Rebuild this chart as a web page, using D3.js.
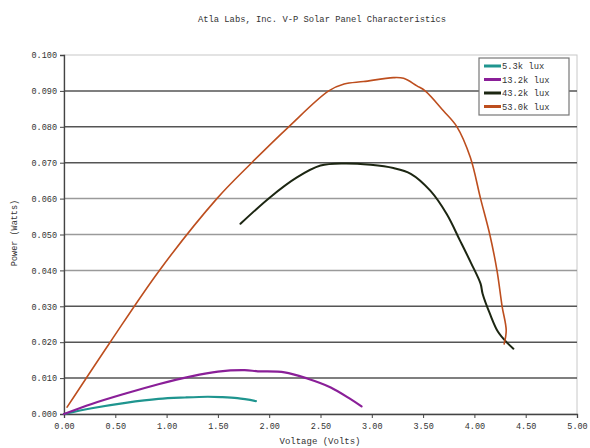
<!DOCTYPE html>
<html>
<head>
<meta charset="utf-8">
<script src="https://cdn.jsdelivr.net/npm/d3@7"></script>
<style>
  html, body { margin: 0; padding: 0; background: #fff; }
  svg { display: block; }
  text { font-family: "Liberation Mono", "DejaVu Sans Mono", monospace; fill: #333; }
</style>
</head>
<body>
<svg id="chart" width="590" height="448"></svg>
<script>
// V-P measurements for each light level (volts, watts)
const seriesNames = ["5.3k lux", "13.2k lux", "43.2k lux", "53.0k lux"];
const seriesColors = ["#1f958f", "#8a1f98", "#1c2612", "#bd4e1e"];
const seriesWidths = [2.2, 2.2, 2, 1.6];

const volts53 = [0.00, 0.27, 0.60, 0.92, 1.18, 1.40, 1.53, 1.69, 1.87];
const watts53 = [0.0000, 0.0016, 0.0031, 0.0042, 0.0046, 0.0048, 0.0047, 0.0044, 0.0036];

const volts132 = [0.00, 0.27, 0.60, 0.92, 1.24, 1.50, 1.76, 1.89, 2.15, 2.37, 2.60, 2.79, 2.90];
const watts132 = [0.0000, 0.0028, 0.0057, 0.0083, 0.0105, 0.0118, 0.0122, 0.0119, 0.0116, 0.0099, 0.0074, 0.0042, 0.0021];

const volts432 = [1.72, 2.01, 2.27, 2.50, 2.73, 2.99, 3.21, 3.38, 3.57, 3.73, 3.86, 3.97, 4.06, 4.08, 4.15, 4.23, 4.32, 4.38];
const watts432 = [0.0530, 0.0604, 0.0659, 0.0692, 0.0698, 0.0694, 0.0685, 0.0669, 0.0622, 0.0557, 0.0483, 0.0419, 0.0363, 0.0335, 0.0280, 0.0229, 0.0198, 0.0182];

const volts530 = [0.03, 0.45, 0.93, 1.49, 1.83, 2.19, 2.58, 2.73, 2.92, 3.21, 3.31, 3.44, 3.52, 3.70, 3.83, 3.96, 4.06, 4.15, 4.22, 4.27, 4.31, 4.29];
const watts530 = [0.0019, 0.0200, 0.0400, 0.0600, 0.0700, 0.0800, 0.0900, 0.0919, 0.0926, 0.0937, 0.0935, 0.0914, 0.0900, 0.0844, 0.0800, 0.0715, 0.0600, 0.0500, 0.0400, 0.0300, 0.0233, 0.0195];

const xTicks = [0, 0.5, 1, 1.5, 2, 2.5, 3, 3.5, 4, 4.5, 5];
const yTicks = [0, 0.01, 0.02, 0.03, 0.04, 0.05, 0.06, 0.07, 0.08, 0.09, 0.1];

const titleText = "Atla Labs, Inc. V-P Solar Panel Characteristics";
const xTitle = "Voltage (Volts)";
const yTitle = "Power (Watts)";

const seriesData = [
  d3.zip(volts53, watts53),
  d3.zip(volts132, watts132),
  d3.zip(volts432, watts432),
  d3.zip(volts530, watts530)
];

const svg = d3.select("#chart");
const plot = { left: 64, right: 577, top: 55, bottom: 414 };

const x = d3.scaleLinear().domain([0, 5]).range([plot.left, plot.right]);
const y = d3.scaleLinear().domain([0, 0.1]).range([plot.bottom, plot.top]);

// Plot frame (light top/right edges)
svg.append("rect")
  .attr("x", plot.left).attr("y", plot.top)
  .attr("width", plot.right - plot.left).attr("height", plot.bottom - plot.top)
  .attr("fill", "none").attr("stroke", "#c8c8c8").attr("stroke-width", 1);

// Horizontal gridlines
svg.append("g")
  .selectAll("line")
  .data(yTicks.filter(d => d > 0 && d < 0.1))
  .join("line")
  .attr("x1", plot.left).attr("x2", plot.right)
  .attr("y1", d => y(d)).attr("y2", d => y(d))
  .attr("stroke", d => (d > 0.035 && d < 0.065) ? "#9a9a9a" : "#555")
  .attr("stroke-width", 1.5);

// Axes
const yAxis = d3.axisLeft(y).tickValues(yTicks).tickFormat(d3.format(".3f")).tickSize(4).tickPadding(3);
const xAxis = d3.axisBottom(x).tickValues(xTicks).tickFormat(d3.format(".2f")).tickSize(4).tickPadding(5);

const gy = svg.append("g").attr("transform", `translate(${plot.left},0)`).call(yAxis);
const gx = svg.append("g").attr("transform", `translate(0,${plot.bottom})`).call(xAxis);
[gx, gy].forEach(g => {
  g.selectAll("path.domain").attr("stroke", "#444").attr("stroke-width", 1.3);
  g.selectAll(".tick line").attr("stroke", "#444");
  g.selectAll("text").attr("font-family", "Liberation Mono, monospace").attr("font-size", 8.5).attr("fill", "#555");
});

// Curves
const line = d3.line()
  .x(d => x(d[0]))
  .y(d => y(d[1]))
  .curve(d3.curveCatmullRom.alpha(0.5));

svg.append("g")
  .selectAll("path")
  .data(seriesData)
  .join("path")
  .attr("d", line)
  .attr("fill", "none")
  .attr("stroke", (d, i) => seriesColors[i])
  .attr("stroke-width", (d, i) => seriesWidths[i])
  .attr("stroke-linejoin", "round")
  .attr("stroke-linecap", "round");

// Title and axis titles
svg.append("text")
  .attr("x", 322).attr("y", 22)
  .attr("text-anchor", "middle")
  .attr("font-size", 8.8)
  .text(titleText);

svg.append("text")
  .attr("x", 320).attr("y", 444)
  .attr("text-anchor", "middle")
  .attr("font-size", 9)
  .text(xTitle);

svg.append("text")
  .attr("transform", "translate(17,233) rotate(-90)")
  .attr("text-anchor", "middle")
  .attr("font-size", 8.5)
  .text(yTitle);

// Legend
const legend = svg.append("g");
legend.append("rect")
  .attr("x", 479).attr("y", 58)
  .attr("width", 90).attr("height", 57)
  .attr("fill", "#fff").attr("stroke", "#777").attr("stroke-width", 1.2);

const rows = legend.selectAll("g.row")
  .data(seriesNames)
  .join("g")
  .attr("class", "row")
  .attr("transform", (d, i) => `translate(0,${66 + i * 13.5})`);

rows.append("line")
  .attr("x1", 484).attr("x2", 501)
  .attr("y1", 0).attr("y2", 0)
  .attr("stroke", (d, i) => seriesColors[i])
  .attr("stroke-width", 3);

rows.append("text")
  .attr("x", 502).attr("y", 3)
  .attr("font-size", 8.8)
  .text(d => d);
</script>
</body>
</html>
